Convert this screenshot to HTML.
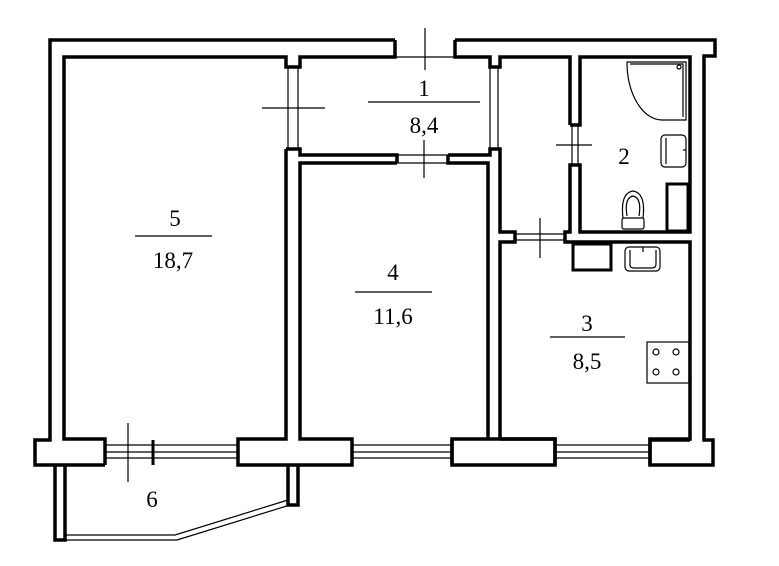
<!DOCTYPE html>
<html><head><meta charset="utf-8"><style>
html,body{margin:0;padding:0;background:#fff;}
svg{display:block;}
text{font-family:"Liberation Serif",serif;font-size:23px;fill:#000;text-anchor:middle;}
</style></head><body>
<svg width="779" height="566" viewBox="0 0 779 566" xmlns="http://www.w3.org/2000/svg">
<g fill="none" stroke="#000" stroke-width="3.5" stroke-linejoin="miter">
<!-- outer top/left -->
<path d="M395,40 H50 V440 H35 V465 H105"/>
<path d="M395,40 V57 H300 V67 H286 V57 H64 V439 H105 V465"/>
<path d="M455,40 H715 V56 H704 V440 H713 V465 H650 V440 H690"/>
<path d="M455,40 V57 H490 V67 H500 V57 H570 V125"/>
<!-- room 5 / 4 wall -->
<path d="M286,149 V439 H238 V465 H352 V439 H300 V163 H397"/>
<path d="M286,149 H300 V155 H397 V163"/>
<path d="M448,155 H490 V149 H500 V232 H515 V242 H500 V439 H452 V465 H555 V439 H488 V163 H448 V155"/>
<!-- corridor/bath wall -->
<path d="M570,125 H580 V57 H690 V232 H580 V165 H570 V232 H565 V242 H690 V439 H650 V465"/>
<path d="M555,465 V439 H500"/>
<path d="M452,465 V439"/>
<!-- balcony -->
<path d="M55,465 V540 H65 V465 M288,465 V505 H298 V465"/>
</g>
<g fill="none" stroke="#000" stroke-width="1.2">
<!-- windows -->
<path d="M105,445 H238 M105,452 H238 M105,458 H238 M352,445 H452 M352,452 H452 M352,458 H452 M555,445 H650 M555,452 H650 M555,458 H650"/>
<path d="M65,535 H175 L288,500 M65,540 H177 L290,505"/>
<!-- door jamb lines -->
<path d="M395,57 H455 M288,67 V149 M298,67 V149 M397,155 H448 M397,163 H448 M490,67 V149 M498,67 V149 M572,125 V165 M578,125 V165 M515,234 H565 M515,240 H565"/>
<!-- crosses -->
<path d="M425,28 V70 M262,108 H325 M424,140 V178 M556,145 H592 M540,218 V258 M128,423 V482"/>
<!-- shower -->
<path d="M627,62 H686 V120 H662 A35,58 0 0 1 627,62 Z M630,64 H683 V117"/>
<circle cx="679" cy="67" r="2"/>
<!-- bath sink -->
<rect x="661" y="135" width="25" height="32" rx="4"/>
<path d="M666,138 V164 M683,150 H686"/>
<!-- toilet -->
<rect x="622" y="218" width="22" height="11" rx="2"/>
<path d="M623,218 Q620,193 633,191 Q646,193 643,218 M627,216 Q624,198 633,196 Q642,198 639,216"/>
<!-- kitchen sink -->
<rect x="625" y="247" width="35" height="24" rx="4"/>
<path d="M630,250 V265 Q630,268 634,268 H652 Q656,268 656,264 V250 M643,247 V252"/>
<!-- stove -->
<rect x="647" y="342" width="42" height="41"/>
<circle cx="656" cy="352" r="3"/><circle cx="676" cy="352" r="3"/>
<circle cx="656" cy="372" r="3"/><circle cx="676" cy="372" r="3"/>
<!-- label lines -->
<path d="M368,102 H480 M135,236 H212 M355,292 H432 M550,337 H625"/>
</g>
<g fill="none" stroke="#000" stroke-width="3">
<rect x="667" y="184" width="21" height="47"/>
<rect x="573" y="244" width="38" height="26"/>
<path d="M153,440 V465"/>
</g>
<text x="424" y="96">1</text>
<text x="424" y="133">8,4</text>
<text x="175" y="226">5</text>
<text x="173" y="268">18,7</text>
<text x="393" y="280">4</text>
<text x="393" y="324">11,6</text>
<text x="587" y="331">3</text>
<text x="587" y="369">8,5</text>
<text x="624" y="164">2</text>
<text x="152" y="507">6</text>
</svg>
</body></html>
